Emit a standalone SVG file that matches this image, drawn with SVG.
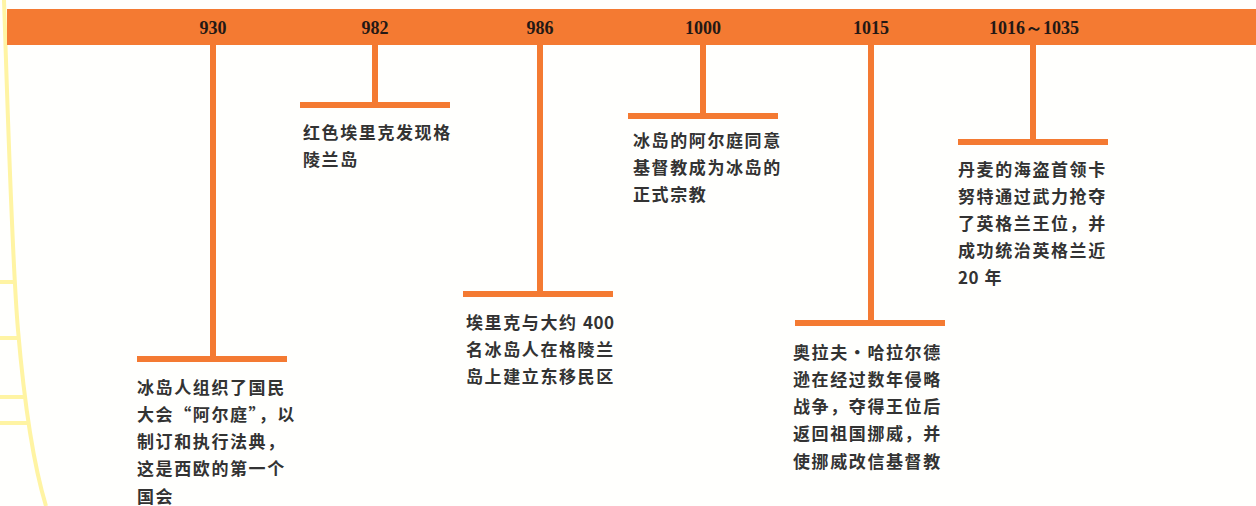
<svg xmlns="http://www.w3.org/2000/svg" width="1256" height="506" viewBox="0 0 1256 506">
<style>
.bar{fill:#F47A32}
.yr{font-family:"Liberation Serif","DejaVu Serif",serif;font-weight:bold;font-size:18px;fill:#231815;text-anchor:middle}
.tx{font-family:"Noto Sans CJK SC","Noto Sans",sans-serif;font-size:17px;font-weight:bold;fill:#333333;letter-spacing:1.6px}
.n{letter-spacing:0.5px}
.deco{fill:none;stroke:#FFF4A3;stroke-width:4}
</style>
<rect width="1256" height="506" fill="#FFFFFD"/>
<g id="decoration">
<path class="deco" d="M4,0 C8,120 12,260 18,330 C24,400 32,460 46,506"/>
<path class="deco" d="M0,282 H16 M0,338 H19 M0,397 H25 M0,423 H28" stroke-width="3"/>
</g>
<g id="timeline-bar">
<rect class="bar" x="7" y="9" width="1249" height="36"/>
</g>
<g id="connectors">
<rect class="bar" x="210" y="45" width="6" height="314"/>
<rect class="bar" x="137" y="356" width="150" height="6"/>
<rect class="bar" x="372" y="45" width="6" height="60"/>
<rect class="bar" x="300" y="102" width="150" height="6"/>
<rect class="bar" x="537" y="45" width="6" height="250"/>
<rect class="bar" x="463" y="291" width="150" height="6"/>
<rect class="bar" x="700" y="45" width="6" height="71"/>
<rect class="bar" x="628" y="113" width="150" height="6"/>
<rect class="bar" x="868" y="45" width="6" height="278"/>
<rect class="bar" x="795" y="320" width="150" height="6"/>
<rect class="bar" x="1030" y="45" width="6" height="96"/>
<rect class="bar" x="958" y="139" width="150" height="6"/>
</g>
<g id="node-930">
<text class="yr" x="213" y="34">930</text>
<text class="tx" x="137" y="394">冰岛人组织了国民</text>
<text class="tx" x="137" y="421">大会“阿尔庭”，以</text>
<text class="tx" x="137" y="448">制订和执行法典，</text>
<text class="tx" x="137" y="475">这是西欧的第一个</text>
<text class="tx" x="137" y="503">国会</text>
</g>
<g id="node-982">
<text class="yr" x="375" y="34">982</text>
<text class="tx" x="303" y="139">红色埃里克发现格</text>
<text class="tx" x="303" y="166">陵兰岛</text>
</g>
<g id="node-986">
<text class="yr" x="540" y="34">986</text>
<text class="tx" x="466" y="329">埃里克与大约 <tspan class="n">400</tspan></text>
<text class="tx" x="466" y="356">名冰岛人在格陵兰</text>
<text class="tx" x="466" y="383">岛上建立东移民区</text>
</g>
<g id="node-1000">
<text class="yr" x="703" y="34">1000</text>
<text class="tx" x="633" y="147">冰岛的阿尔庭同意</text>
<text class="tx" x="633" y="174">基督教成为冰岛的</text>
<text class="tx" x="633" y="201">正式宗教</text>
</g>
<g id="node-1015">
<text class="yr" x="871" y="34">1015</text>
<text class="tx" x="793" y="359">奥拉夫・哈拉尔德</text>
<text class="tx" x="793" y="386">逊在经过数年侵略</text>
<text class="tx" x="793" y="413">战争，夺得王位后</text>
<text class="tx" x="793" y="440">返回祖国挪威，并</text>
<text class="tx" x="793" y="468">使挪威改信基督教</text>
</g>
<g id="node-1016-1035">
<text class="yr" x="1034" y="34">1016～1035</text>
<text class="tx" x="958" y="176">丹麦的海盗首领卡</text>
<text class="tx" x="958" y="203">努特通过武力抢夺</text>
<text class="tx" x="958" y="230">了英格兰王位，并</text>
<text class="tx" x="958" y="257">成功统治英格兰近</text>
<text class="tx" x="958" y="284"><tspan class="n">20</tspan> 年</text>
</g>
</svg>
